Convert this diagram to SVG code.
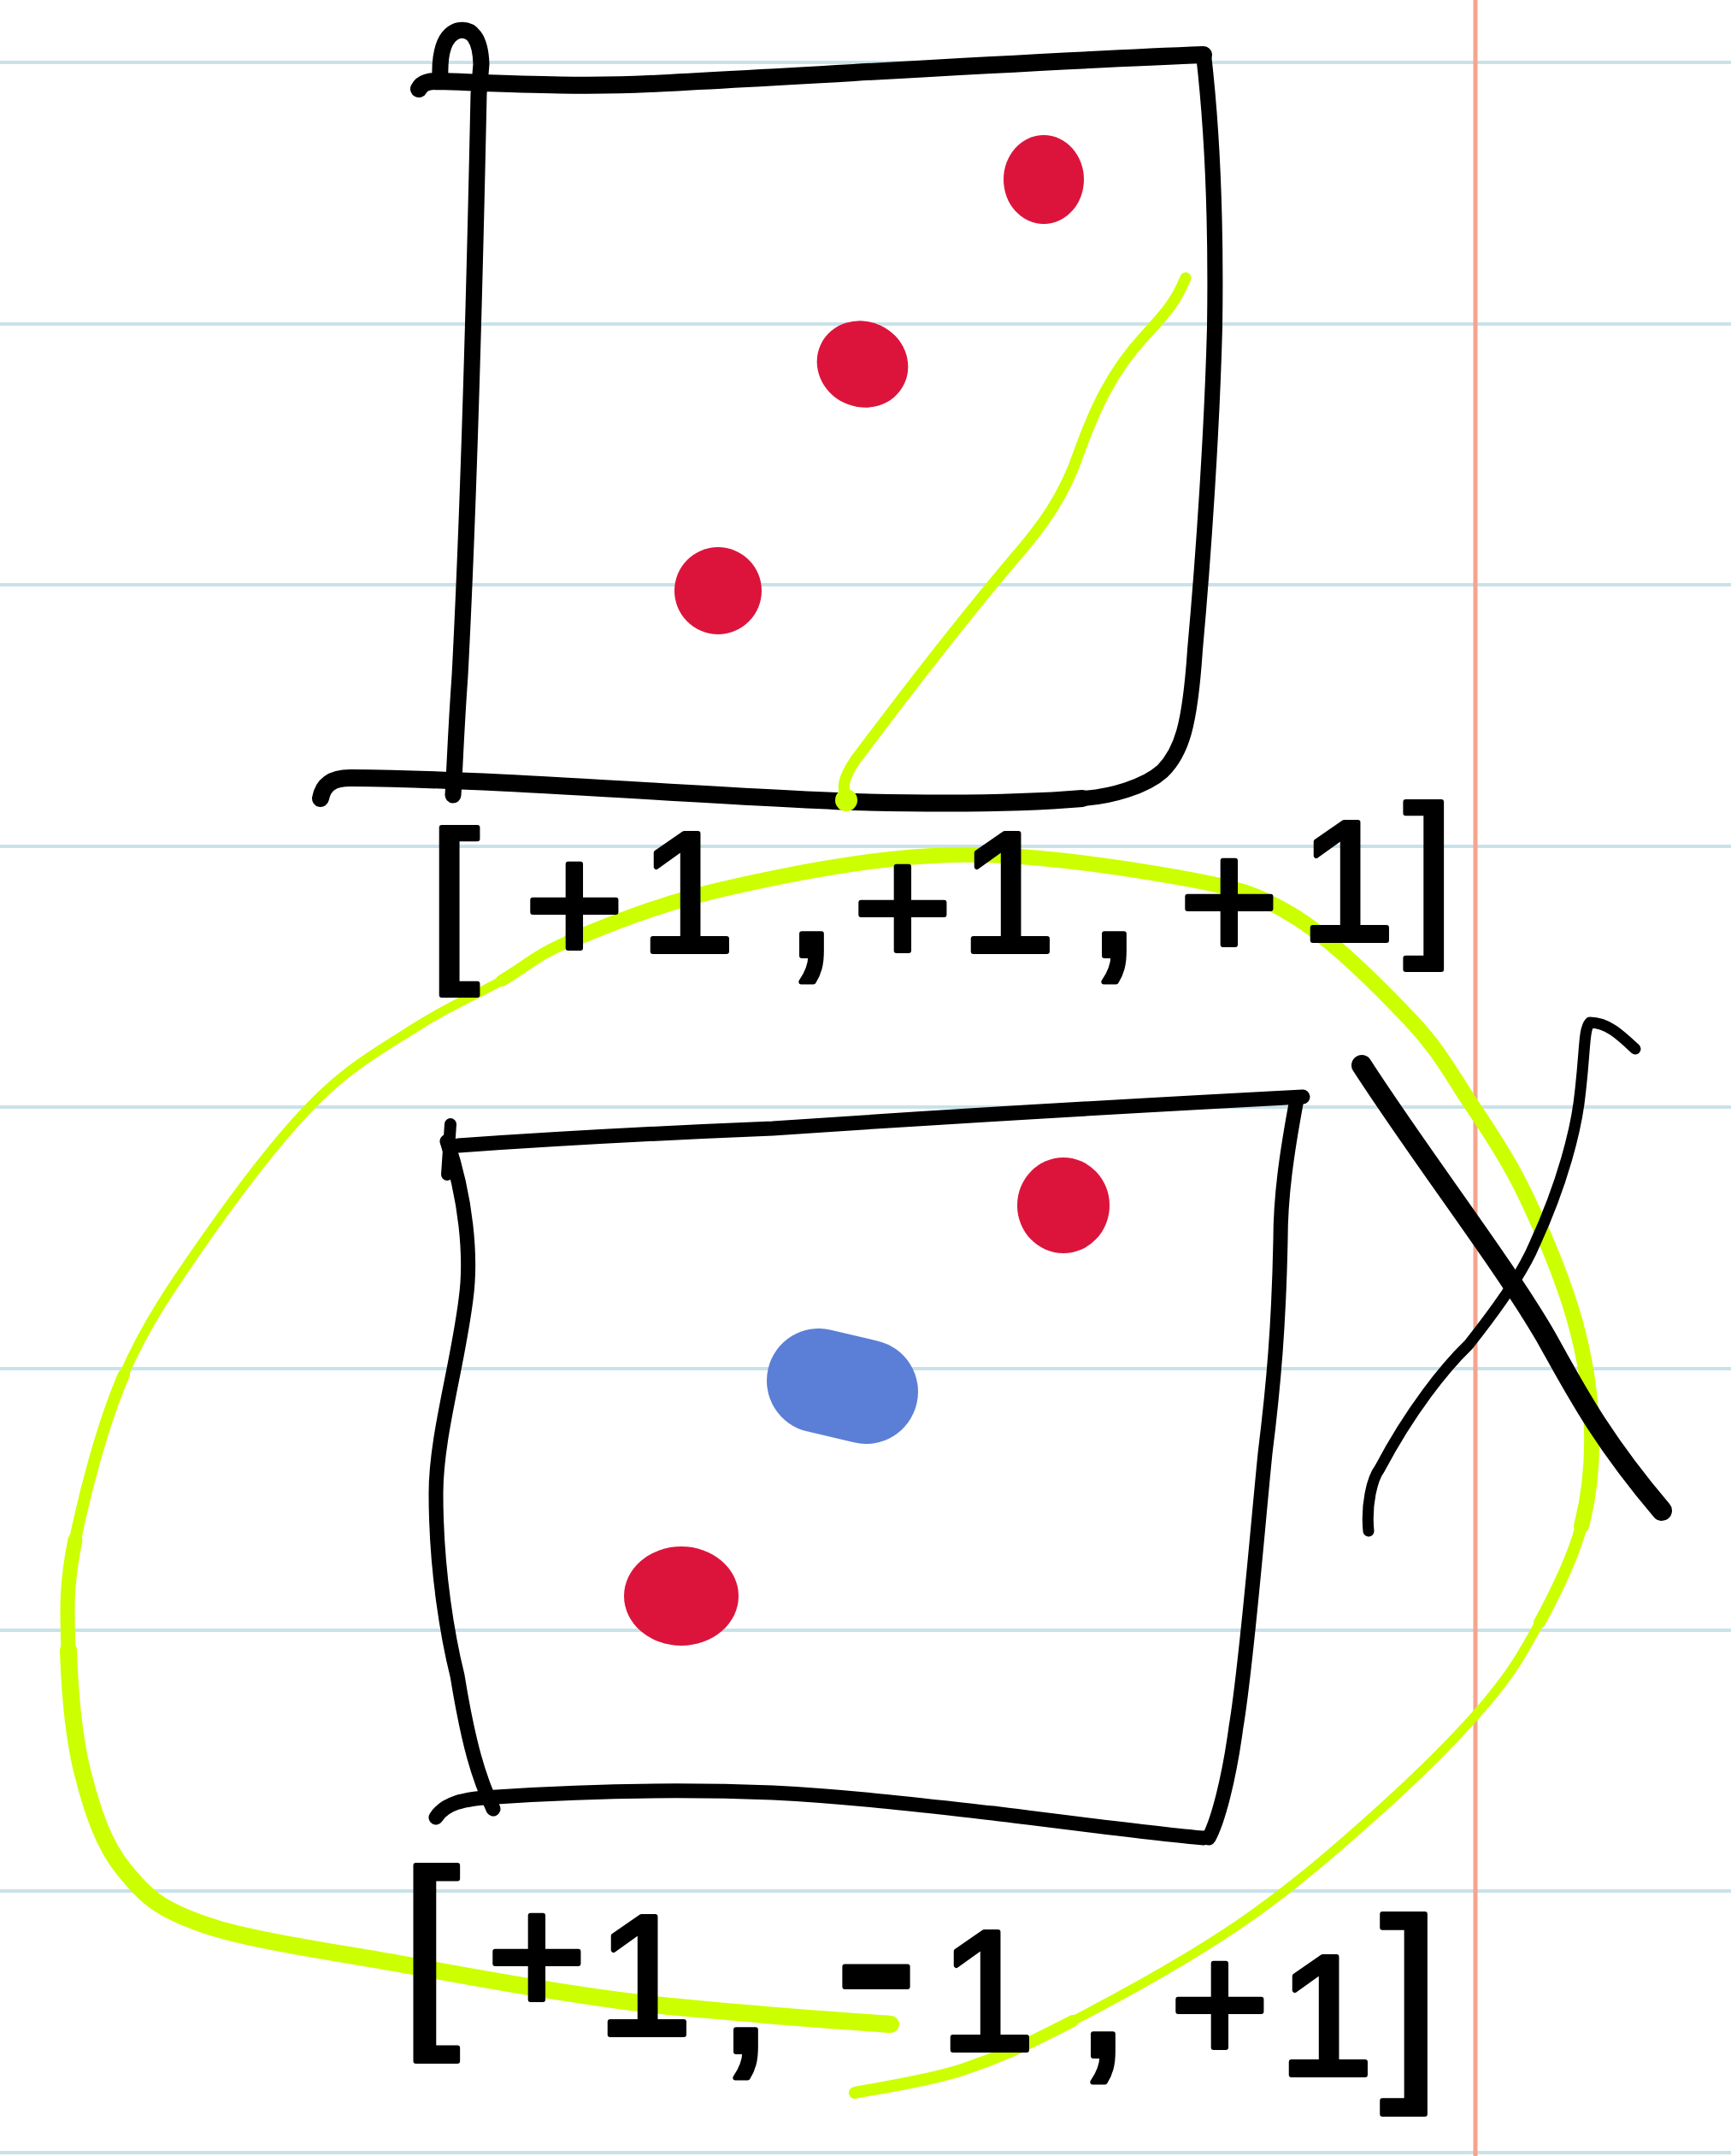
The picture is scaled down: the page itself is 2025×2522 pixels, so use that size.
<svg xmlns="http://www.w3.org/2000/svg" width="2025" height="2522" viewBox="0 0 2025 2522">
<style>
.rule{stroke:#C9E2EA;stroke-width:4}
.ink{fill:none;stroke:#000;stroke-linecap:round;stroke-linejoin:round}
.hl{fill:none;stroke:#CCFF00;stroke-linecap:round;stroke-linejoin:round}
.red{fill:#DC143C}
.lbl{font-family:"Liberation Sans",Arial,sans-serif;fill:#000;stroke:#000;stroke-width:6;stroke-linejoin:round;text-anchor:middle}
</style>
<rect width="2025" height="2522" fill="#fff"/>
<g id="paper">
<line class="rule" x1="0" y1="73" x2="2025" y2="73"/>
<line class="rule" x1="0" y1="379" x2="2025" y2="379"/>
<line class="rule" x1="0" y1="684" x2="2025" y2="684"/>
<line class="rule" x1="0" y1="990" x2="2025" y2="990"/>
<line class="rule" x1="0" y1="1295" x2="2025" y2="1295"/>
<line class="rule" x1="0" y1="1601" x2="2025" y2="1601"/>
<line class="rule" x1="0" y1="1907" x2="2025" y2="1907"/>
<line class="rule" x1="0" y1="2212" x2="2025" y2="2212"/>
<line class="rule" x1="0" y1="2518" x2="2025" y2="2518"/>
<line x1="1726" y1="0" x2="1726" y2="2522" stroke="#F6A48C" stroke-width="5"/>
</g>
<g id="box-top">
<path class="ink" stroke-width="20" d="M490,104 C494,96 502,95 515,95 C600,98 680,102 760,98 C960,88 1200,72 1408,64"/>
<path class="ink" stroke-width="19" d="M515,92 C514,65 518,42 535,36 C552,32 562,45 563,75 L560,110 C556,300 548,600 538,790 C533,860 532,900 530,930"/>
<path class="ink" stroke-width="18" d="M1408,64 C1418,150 1423,250 1421,383 C1418,500 1408,650 1398,760 C1392,850 1382,880 1360,902 C1340,920 1300,932 1266,934"/>
<path class="ink" stroke-width="20" d="M375,934 C378,918 388,910 410,910 C600,912 800,930 1000,938 C1150,942 1230,937 1266,934"/>
<ellipse class="red" cx="1221" cy="210" rx="47" ry="52"/>
<ellipse class="red" cx="1009" cy="426" rx="54" ry="50" transform="rotate(25 1009 426)"/>
<ellipse class="red" cx="840" cy="691" rx="51" ry="51"/>
<path class="hl" stroke-width="13" d="M1387,325 C1375,355 1360,370 1340,392 C1300,435 1280,480 1262,530 C1245,580 1220,615 1185,655 C1130,720 1060,810 1000,890 C988,908 984,920 990,935"/>
<circle cx="990" cy="936" r="13" fill="#CCFF00"/>
</g>
<g id="box-bottom">
<path class="ink" stroke-width="17" d="M536,1340 C650,1332 780,1325 904,1320 C1050,1310 1200,1300 1524,1283"/>
<path class="ink" stroke-width="14" d="M527,1315 L523,1374"/>
<path class="ink" stroke-width="17" d="M523,1335 C545,1400 552,1470 545,1520 C535,1600 510,1680 510,1747 C510,1840 525,1920 535,1960 C548,2040 560,2080 577,2116"/>
<path class="ink" stroke-width="17" d="M1517,1286 C1505,1350 1498,1400 1498,1450 C1496,1550 1490,1620 1480,1700 C1470,1800 1458,1950 1446,2020 C1438,2080 1425,2130 1414,2150"/>
<path class="ink" stroke-width="17" d="M510,2126 C520,2110 540,2104 581,2102 C700,2094 800,2093 904,2097 C1000,2102 1080,2112 1162,2121 C1250,2132 1350,2145 1408,2150"/>
<ellipse class="red" cx="1244" cy="1410" rx="54" ry="56"/>
<path d="M958,1615 L1013,1628" stroke="#5B7FD6" stroke-width="122" stroke-linecap="round" fill="none"/>
<ellipse class="red" cx="797" cy="1867" rx="67" ry="58"/>
</g>
<g id="loop">
<path class="hl" stroke-width="20" d="M1042,2368 C1016,2366 938,2361 885,2356 C832,2351 791,2349 724,2340 C657,2331 563,2315 483,2300 C402,2285 297,2271 241,2252 C185,2233 169,2217 145,2187 C121,2158 108,2118 97,2075 C86,2032 81.5,1976 80,1930"/>
<path class="hl" stroke-width="17" d="M80,1930 C78.5,1884 77,1855 88,1801"/>
<path class="hl" stroke-width="14" d="M88,1801 C99,1747 119.5,1667 145,1608"/>
<path class="hl" stroke-width="11" d="M145,1608 C170.5,1549 203.5,1501.5 241,1448 C278.5,1394.5 328.7,1328 370,1287 C411,1246 453,1223 489,1200 C525,1177 557,1164 587,1147"/>
<path class="hl" stroke-width="14" d="M587,1147 C617,1130 625,1118 668,1100"/>
<path class="hl" stroke-width="18" d="M668,1100 C711,1082 772,1057 846,1040 C920,1023 1025,1002 1114,1000 C1203,998 1315,1015 1382,1027 C1449,1039 1471,1045 1516,1073 C1561,1101 1616,1157 1650,1193 C1684,1229 1697.5,1256 1720,1290 C1742.5,1324 1765,1357 1785,1399 C1805,1441 1829,1498 1842,1544 C1855,1590 1861,1633 1862,1673 C1863,1713 1860,1747.5 1850,1785"/>
<path class="hl" stroke-width="14" d="M1850,1785 C1840,1822.5 1820,1863 1801,1898"/>
<path class="hl" stroke-width="11" d="M1801,1898 C1782,1933 1769,1956.5 1737,1994 C1705,2031.5 1656,2080 1608,2123 C1560,2166 1507,2212 1448,2252 C1389,2292 1309,2336 1255,2364"/>
<path class="hl" stroke-width="14" d="M1255,2364 C1201,2392 1168.5,2407 1126,2421 C1083.5,2435 1021,2443.5 1000,2448"/>
</g>
<g id="cross">
<path class="ink" stroke-width="24" d="M1593,1246 C1660,1350 1760,1480 1808,1563 C1840,1620 1870,1680 1944,1767"/>
<path class="ink" stroke-width="13" d="M1601,1791 C1598,1760 1605,1730 1614,1718 C1650,1650 1690,1600 1718,1573 C1760,1520 1785,1480 1795,1456 C1830,1380 1843,1320 1847,1291 C1855,1230 1852,1205 1860,1196 C1880,1196 1895,1210 1913,1227"/>
</g>
<g id="label-top">
<text class="lbl" font-size="200"><tspan x="531" y="1120" font-size="210">[</tspan><tspan x="672" y="1127">+</tspan><tspan x="804" y="1113">1</tspan><tspan x="949" y="1118" font-size="240">,</tspan><tspan x="1056" y="1130">+</tspan><tspan x="1179" y="1113">1</tspan><tspan x="1303" y="1118" font-size="240">,</tspan><tspan x="1438" y="1123">+</tspan><tspan x="1576" y="1100">1</tspan><tspan x="1672" y="1090" font-size="210">]</tspan></text>
</g>
<g id="label-bottom">
<text class="lbl" font-size="200"><tspan x="503" y="2360" font-size="245">[</tspan><tspan x="628" y="2357">+</tspan><tspan x="754" y="2380">1</tspan><tspan x="872" y="2400" font-size="240">,</tspan><tspan x="1025" y="2392" font-size="300">-</tspan><tspan x="1155" y="2398">1</tspan><tspan x="1290" y="2405" font-size="240">,</tspan><tspan x="1427" y="2413">+</tspan><tspan x="1551" y="2427">1</tspan><tspan x="1650" y="2421" font-size="250">]</tspan></text>
</g>
</svg>
